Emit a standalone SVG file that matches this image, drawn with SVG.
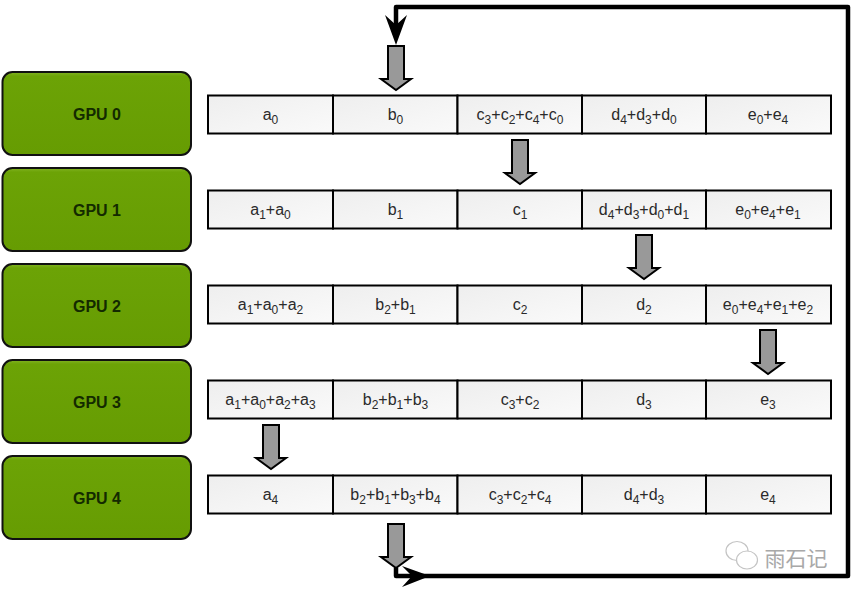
<svg xmlns="http://www.w3.org/2000/svg" width="855" height="597" viewBox="0 0 855 597">
<style>
text{font-family:"Liberation Sans",Arial,sans-serif;text-anchor:middle}
.gpu rect{fill:url(#g);stroke:#111;stroke-width:2}
.gpu text{font-size:16px;font-weight:bold;fill:#132a00}
.cell{fill:url(#c);stroke:#000;stroke-width:2}
.t{font-size:16px;fill:#2a2a2a}
.s{font-size:12px;baseline-shift:-4px}
.ba{fill:#999;stroke:#000;stroke-width:2}
.loop{fill:none;stroke:#000;stroke-width:4.500;stroke-linejoin:round}
</style>
<defs>
<linearGradient id="g" x1="0" y1="0" x2="0" y2="1"><stop offset="0" stop-color="#82b322"/><stop offset=".05" stop-color="#6ca306"/><stop offset="1" stop-color="#669c02"/></linearGradient>
<linearGradient id="c" x1="0" y1="0" x2="1" y2="1"><stop offset="0" stop-color="#eeeeee"/><stop offset="1" stop-color="#fafafa"/></linearGradient>
<path id="ba" d="M-8 0H8V33H15L0 44L-15 33H-8Z"/>
</defs>
<rect width="855" height="597" fill="#fff"/>
<g id="gpu0" class="gpu"><rect x="2.500" y="72" width="188.500" height="83" rx="10"/><text x="97" y="119.500">GPU 0</text></g>
<g id="gpu1" class="gpu"><rect x="2.500" y="168" width="188.500" height="83" rx="10"/><text x="97" y="215.500">GPU 1</text></g>
<g id="gpu2" class="gpu"><rect x="2.500" y="264" width="188.500" height="83" rx="10"/><text x="97" y="311.500">GPU 2</text></g>
<g id="gpu3" class="gpu"><rect x="2.500" y="360" width="188.500" height="83" rx="10"/><text x="97" y="407.500">GPU 3</text></g>
<g id="gpu4" class="gpu"><rect x="2.500" y="456" width="188.500" height="83" rx="10"/><text x="97" y="503.500">GPU 4</text></g>

<g id="row0">
<rect class="cell" x="208" y="95.500" width="125" height="38"/><rect class="cell" x="333" y="95.500" width="124.500" height="38"/><rect class="cell" x="457.500" y="95.500" width="124.500" height="38"/><rect class="cell" x="582" y="95.500" width="124" height="38"/><rect class="cell" x="706" y="95.500" width="125" height="38"/>
<text class="t" x="270.500" y="120">a<tspan class="s">0</tspan></text>
<text class="t" x="395.500" y="120">b<tspan class="s">0</tspan></text>
<text class="t" x="520" y="120">c<tspan class="s">3</tspan>+c<tspan class="s">2</tspan>+c<tspan class="s">4</tspan>+c<tspan class="s">0</tspan></text>
<text class="t" x="644" y="120">d<tspan class="s">4</tspan>+d<tspan class="s">3</tspan>+d<tspan class="s">0</tspan></text>
<text class="t" x="768" y="120">e<tspan class="s">0</tspan>+e<tspan class="s">4</tspan></text>
</g>
<g id="row1">
<rect class="cell" x="208" y="190.500" width="125" height="38"/><rect class="cell" x="333" y="190.500" width="124.500" height="38"/><rect class="cell" x="457.500" y="190.500" width="124.500" height="38"/><rect class="cell" x="582" y="190.500" width="124" height="38"/><rect class="cell" x="706" y="190.500" width="125" height="38"/>
<text class="t" x="270.500" y="215">a<tspan class="s">1</tspan>+a<tspan class="s">0</tspan></text>
<text class="t" x="395.500" y="215">b<tspan class="s">1</tspan></text>
<text class="t" x="520" y="215">c<tspan class="s">1</tspan></text>
<text class="t" x="644" y="215">d<tspan class="s">4</tspan>+d<tspan class="s">3</tspan>+d<tspan class="s">0</tspan>+d<tspan class="s">1</tspan></text>
<text class="t" x="768" y="215">e<tspan class="s">0</tspan>+e<tspan class="s">4</tspan>+e<tspan class="s">1</tspan></text>
</g>
<g id="row2">
<rect class="cell" x="208" y="285.500" width="125" height="38"/><rect class="cell" x="333" y="285.500" width="124.500" height="38"/><rect class="cell" x="457.500" y="285.500" width="124.500" height="38"/><rect class="cell" x="582" y="285.500" width="124" height="38"/><rect class="cell" x="706" y="285.500" width="125" height="38"/>
<text class="t" x="270.500" y="310">a<tspan class="s">1</tspan>+a<tspan class="s">0</tspan>+a<tspan class="s">2</tspan></text>
<text class="t" x="395.500" y="310">b<tspan class="s">2</tspan>+b<tspan class="s">1</tspan></text>
<text class="t" x="520" y="310">c<tspan class="s">2</tspan></text>
<text class="t" x="644" y="310">d<tspan class="s">2</tspan></text>
<text class="t" x="768" y="310">e<tspan class="s">0</tspan>+e<tspan class="s">4</tspan>+e<tspan class="s">1</tspan>+e<tspan class="s">2</tspan></text>
</g>
<g id="row3">
<rect class="cell" x="208" y="380.500" width="125" height="38"/><rect class="cell" x="333" y="380.500" width="124.500" height="38"/><rect class="cell" x="457.500" y="380.500" width="124.500" height="38"/><rect class="cell" x="582" y="380.500" width="124" height="38"/><rect class="cell" x="706" y="380.500" width="125" height="38"/>
<text class="t" x="270.500" y="405">a<tspan class="s">1</tspan>+a<tspan class="s">0</tspan>+a<tspan class="s">2</tspan>+a<tspan class="s">3</tspan></text>
<text class="t" x="395.500" y="405">b<tspan class="s">2</tspan>+b<tspan class="s">1</tspan>+b<tspan class="s">3</tspan></text>
<text class="t" x="520" y="405">c<tspan class="s">3</tspan>+c<tspan class="s">2</tspan></text>
<text class="t" x="644" y="405">d<tspan class="s">3</tspan></text>
<text class="t" x="768" y="405">e<tspan class="s">3</tspan></text>
</g>
<g id="row4">
<rect class="cell" x="208" y="475.500" width="125" height="38"/><rect class="cell" x="333" y="475.500" width="124.500" height="38"/><rect class="cell" x="457.500" y="475.500" width="124.500" height="38"/><rect class="cell" x="582" y="475.500" width="124" height="38"/><rect class="cell" x="706" y="475.500" width="125" height="38"/>
<text class="t" x="270.500" y="500">a<tspan class="s">4</tspan></text>
<text class="t" x="395.500" y="500">b<tspan class="s">2</tspan>+b<tspan class="s">1</tspan>+b<tspan class="s">3</tspan>+b<tspan class="s">4</tspan></text>
<text class="t" x="520" y="500">c<tspan class="s">3</tspan>+c<tspan class="s">2</tspan>+c<tspan class="s">4</tspan></text>
<text class="t" x="644" y="500">d<tspan class="s">4</tspan>+d<tspan class="s">3</tspan></text>
<text class="t" x="768" y="500">e<tspan class="s">4</tspan></text>
</g>

<g id="connectors">
<path class="loop" d="M396 568V576H848V7H396V30"/>
<path d="M396 45L385 15L396 25L407 15Z" fill="#000"/>
<path d="M430 576L402 566L412 576L402 587Z" fill="#000"/>
<use href="#ba" class="ba" x="396" y="46"/>
<use href="#ba" class="ba" x="520" y="140"/>
<use href="#ba" class="ba" x="644" y="235"/>
<use href="#ba" class="ba" x="768" y="330"/>
<use href="#ba" class="ba" x="271" y="425"/>
<use href="#ba" class="ba" x="396" y="524"/>
</g>

<g id="watermark" fill="none" stroke="#c4c4c4" stroke-width="1.200">
<ellipse cx="737" cy="551" rx="11" ry="9.500"/>
<ellipse cx="747" cy="560" rx="10.500" ry="9" fill="#fff"/>
<text x="796" y="566" font-size="21" fill="#a8a8a8" stroke="none" style='font-family:"Noto Sans CJK SC",sans-serif'>雨石记</text>
</g>
</svg>
